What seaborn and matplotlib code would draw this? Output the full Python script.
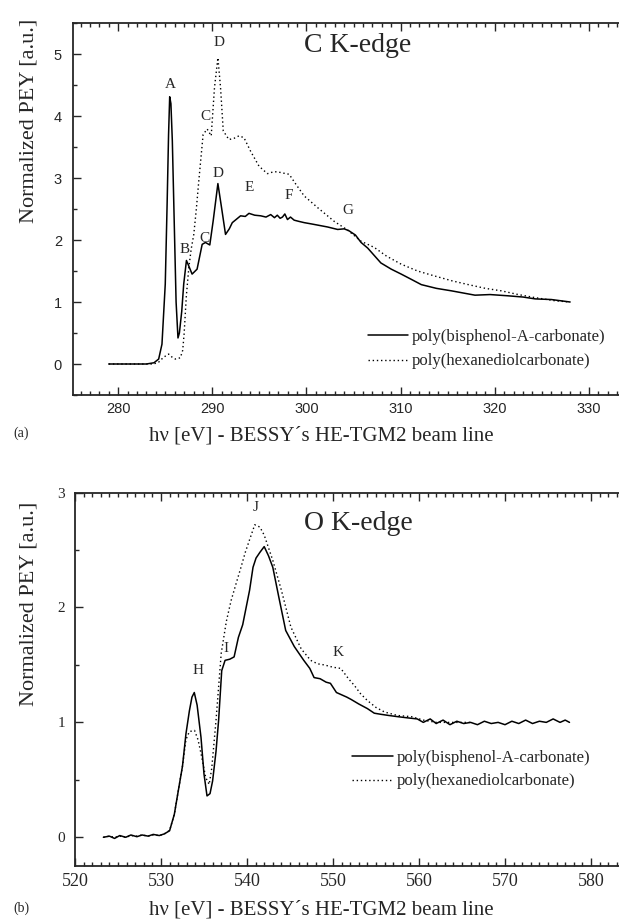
import matplotlib
matplotlib.use("Agg")
import matplotlib.pyplot as plt
import seaborn as sns
from matplotlib.ticker import MultipleLocator

# C K-edge, (eV, PEY)
c_bpa = [(279.0, 0.0), (280.0, 0.0), (281.0, 0.0), (282.0, 0.0), (283.0, 0.0),
         (283.8, 0.02), (284.3, 0.08), (284.65, 0.32), (285.0, 1.29), (285.2, 2.6),
         (285.35, 3.7), (285.47, 4.31), (285.6, 4.2), (285.75, 3.6), (285.95, 2.3),
         (286.15, 1.0), (286.35, 0.42), (286.5, 0.5), (286.75, 0.85), (286.96, 1.29),
         (287.25, 1.67), (287.5, 1.58), (287.85, 1.45), (288.38, 1.53), (288.92, 1.93),
         (289.27, 1.96), (289.73, 1.92), (290.09, 2.31), (290.59, 2.91), (290.98, 2.52),
         (291.4, 2.09), (291.8, 2.18), (292.12, 2.28), (292.6, 2.34), (293.0, 2.39),
         (293.5, 2.38), (293.89, 2.43), (294.5, 2.4), (295.14, 2.39), (295.7, 2.37),
         (296.2, 2.41), (296.6, 2.36), (296.9, 2.4), (297.2, 2.35), (297.45, 2.37),
         (297.7, 2.42), (297.98, 2.33), (298.3, 2.37), (298.69, 2.32), (299.2, 2.3),
         (299.76, 2.28), (300.5, 2.26), (301.2, 2.24), (302.24, 2.21), (303.31, 2.17),
         (304.0, 2.18), (304.5, 2.15), (305.2, 2.08), (305.8, 1.96), (306.5, 1.87),
         (307.2, 1.75), (307.9, 1.63), (309.0, 1.53), (310.06, 1.45), (311.2, 1.36),
         (312.2, 1.28), (313.8, 1.22), (315.4, 1.18), (317.9, 1.11), (319.5, 1.12),
         (321.4, 1.1), (323.0, 1.08), (324.3, 1.05), (326.0, 1.04), (328.0, 1.0)]

c_hdc = [(279.0, 0.0), (281.0, 0.0), (283.0, 0.0), (283.76, 0.0), (284.3, 0.03),
         (284.83, 0.11), (285.36, 0.16), (285.8, 0.1), (286.07, 0.08), (286.6, 0.1),
         (286.85, 0.22), (287.0, 0.48), (287.24, 1.1), (287.5, 1.55), (287.75, 1.85),
         (288.03, 2.09), (288.3, 2.5), (288.56, 2.95), (289.02, 3.7), (289.45, 3.79),
         (289.88, 3.68), (290.23, 4.46), (290.59, 4.94), (290.87, 4.46), (291.16, 3.76),
         (291.76, 3.62), (292.3, 3.64), (292.83, 3.68), (293.36, 3.65), (294.07, 3.43),
         (294.96, 3.19), (295.85, 3.07), (296.5, 3.1), (296.91, 3.1), (297.5, 3.08),
         (298.16, 3.06), (298.87, 2.9), (299.76, 2.71), (301.2, 2.52), (302.95, 2.3),
         (304.37, 2.16), (305.8, 1.98), (307.2, 1.88), (308.5, 1.74), (310.06, 1.61),
         (311.8, 1.5), (313.6, 1.42), (315.5, 1.34), (317.2, 1.28), (319.0, 1.22),
         (320.7, 1.18), (322.5, 1.12), (324.3, 1.07), (326.4, 1.02), (328.0, 1.0)]

# O K-edge
o_bpa = [(523.3, 0.0), (524.0, 0.01), (524.6, -0.01), (525.2, 0.015), (525.9, 0.0),
         (526.5, 0.02), (527.2, 0.005), (527.8, 0.02), (528.5, 0.01), (529.1, 0.025),
         (529.8, 0.015), (530.4, 0.03), (531.0, 0.057), (531.55, 0.2), (532.0, 0.4),
         (532.5, 0.62), (532.9, 0.9), (533.3, 1.1), (533.6, 1.22), (533.87, 1.26),
         (534.2, 1.15), (534.65, 0.87), (535.0, 0.55), (535.35, 0.36), (535.7, 0.38),
         (536.0, 0.49), (536.4, 0.75), (536.7, 1.02), (537.06, 1.45), (537.45, 1.54),
         (538.0, 1.55), (538.5, 1.57), (539.0, 1.74), (539.5, 1.85), (539.9, 2.0),
         (540.3, 2.15), (540.7, 2.35), (541.05, 2.43), (541.5, 2.48), (542.0, 2.53),
         (542.5, 2.45), (543.0, 2.35), (543.7, 2.09), (544.5, 1.8), (545.5, 1.66),
         (546.6, 1.54), (547.3, 1.47), (547.8, 1.39), (548.5, 1.38), (549.2, 1.35),
         (549.7, 1.34), (550.4, 1.26), (551.0, 1.24), (551.6, 1.22), (552.1, 1.2),
         (553.0, 1.16), (554.0, 1.12), (554.8, 1.08), (555.6, 1.07), (556.5, 1.06),
         (557.5, 1.05), (558.6, 1.04), (559.8, 1.03), (560.5, 1.0), (561.3, 1.03),
         (562.0, 0.99), (562.8, 1.02), (563.6, 0.98), (564.4, 1.01), (565.2, 0.99),
         (566.0, 1.0), (566.8, 0.98), (567.6, 1.01), (568.4, 0.99), (569.2, 1.0),
         (570.0, 0.98), (570.8, 1.01), (571.6, 0.99), (572.4, 1.02), (573.2, 0.99),
         (574.0, 1.01), (574.8, 1.0), (575.6, 1.03), (576.4, 1.0), (577.0, 1.02),
         (577.5, 1.0)]

o_hdc = [(523.3, 0.0), (524.0, 0.01), (524.6, 0.0), (525.2, 0.01), (525.9, 0.0),
         (526.5, 0.015), (527.2, 0.01), (527.8, 0.02), (528.5, 0.01), (529.1, 0.02),
         (529.8, 0.015), (530.4, 0.03), (531.0, 0.06), (531.55, 0.2), (532.0, 0.4),
         (532.5, 0.62), (532.9, 0.85), (533.3, 0.92), (533.9, 0.93), (534.3, 0.85),
         (534.65, 0.73), (535.2, 0.52), (535.6, 0.46), (535.9, 0.6), (536.4, 1.02),
         (537.0, 1.6), (537.6, 1.88), (538.15, 2.06), (538.7, 2.2), (539.3, 2.35),
         (539.8, 2.48), (540.3, 2.59), (540.9, 2.72), (541.5, 2.7), (542.0, 2.63),
         (542.5, 2.52), (543.0, 2.41), (544.0, 2.15), (545.1, 1.83), (546.3, 1.64),
         (547.4, 1.54), (548.2, 1.51), (549.0, 1.5), (550.0, 1.48), (550.9, 1.47),
         (551.8, 1.38), (552.5, 1.32), (553.2, 1.25), (554.0, 1.19), (555.0, 1.13),
         (556.0, 1.09), (557.5, 1.06), (559.1, 1.05), (560.5, 1.02), (562.0, 1.0),
         (564.0, 1.0), (566.0, 1.0)]

c_peaks = [("A", 285.5, 4.5), ("D", 290.7, 5.18), ("C", 289.3, 4.0), ("D", 290.6, 3.08),
           ("E", 293.9, 2.84), ("F", 298.1, 2.71), ("G", 304.4, 2.47), ("C", 289.2, 2.03),
           ("B", 287.1, 1.85)]
o_peaks = [("H", 534.3, 1.45), ("I", 537.6, 1.64), ("J", 541.05, 2.87), ("K", 550.6, 1.61)]

labels = ["poly(bisphenol-A-carbonate)", "poly(hexanediolcarbonate)"]
xlabel = "h\u03bd [eV] - BESSY\u00b4s HE-TGM2 beam line"
ylabel = "Normalized PEY [a.u.]"

sns.set_style("ticks")
plt.rcParams["font.family"] = ["Liberation Serif", "DejaVu Serif"]

W, H = 619, 923
fig = plt.figure(figsize=(W / 100, H / 100), dpi=100)
ax_a = fig.add_axes([73 / W, 1 - 395 / H, 563 / W, 372 / H])
ax_b = fig.add_axes([75 / W, 1 - 866 / H, 559 / W, 373.4 / H])

dotted = (0, (1, 2))

def draw(ax, bpa, hdc):
    sns.lineplot(x=[p[0] for p in bpa], y=[p[1] for p in bpa], ax=ax, color="black",
                 lw=1.1, label=labels[0])
    sns.lineplot(x=[p[0] for p in hdc], y=[p[1] for p in hdc], ax=ax, color="black",
                 lw=1.0, linestyle=dotted, label=labels[1])

draw(ax_a, c_bpa, c_hdc)
draw(ax_b, o_bpa, o_hdc)

for ax in (ax_a, ax_b):
    for s in ax.spines.values():
        s.set_linewidth(1.3)
        s.set_visible(True)
    ax.tick_params(which="both", direction="in", top=True, right=True, width=1.0)
    ax.tick_params(which="major", length=6)
    ax.tick_params(which="minor", length=3)
    ax.xaxis.set_major_locator(MultipleLocator(10))
    ax.xaxis.set_minor_locator(MultipleLocator(1))
    ax.yaxis.set_major_locator(MultipleLocator(1))
    ax.yaxis.set_minor_locator(MultipleLocator(0.5))
    ax.set_xlabel("")
    ax.set_ylabel("")

ax_a.set_xlim(275.2, 335)
ax_a.set_ylim(-0.5, 5.5)
ax_b.set_xlim(520, 585)
ax_b.set_ylim(-0.25, 3.0)

for lab in ax_a.get_xticklabels() + ax_a.get_yticklabels():
    lab.set_family("Liberation Sans")
    lab.set_fontsize(10.5)
ax_a.tick_params(axis="x", which="major", pad=5)
ax_a.tick_params(axis="y", which="major", pad=8)
ax_b.tick_params(axis="x", which="major", labelsize=13, pad=5)
ax_b.tick_params(axis="y", which="major", labelsize=11, pad=7)

for name, x, y in c_peaks:
    ax_a.text(x, y, name, ha="center", va="center", fontsize=11)
for name, x, y in o_peaks:
    ax_b.text(x, y, name, ha="center", va="center", fontsize=11)

ax_a.text(299.7, 5.13, "C K-edge", ha="left", va="center", fontsize=20)
ax_b.text(546.6, 2.73, "O K-edge", ha="left", va="center", fontsize=20)

ax_a.legend(loc="upper left", bbox_to_anchor=(0.524, 0.177), frameon=False,
            borderpad=0, borderaxespad=0, handlelength=2.4, handletextpad=0.25,
            labelspacing=0.5, fontsize=12)
ax_b.legend(loc="upper left", bbox_to_anchor=(0.496, 0.311), frameon=False,
            borderpad=0, borderaxespad=0, handlelength=2.45, handletextpad=0.2,
            labelspacing=0.45, fontsize=12)

fig.text(29 / W, 1 - 121 / H, ylabel, rotation=90, ha="center", va="center", fontsize=16)
fig.text(29 / W, 1 - 604 / H, ylabel, rotation=90, ha="center", va="center", fontsize=16)
fig.text(321 / W, 1 - 436 / H, xlabel, ha="center", va="center", fontsize=15)
fig.text(321 / W, 1 - 910 / H, xlabel, ha="center", va="center", fontsize=15)
fig.text(13 / W, 1 - 433 / H, "(a)", ha="left", va="center", fontsize=10)
fig.text(13 / W, 1 - 908 / H, "(b)", ha="left", va="center", fontsize=10)

fig.savefig("out.png", dpi=100)
